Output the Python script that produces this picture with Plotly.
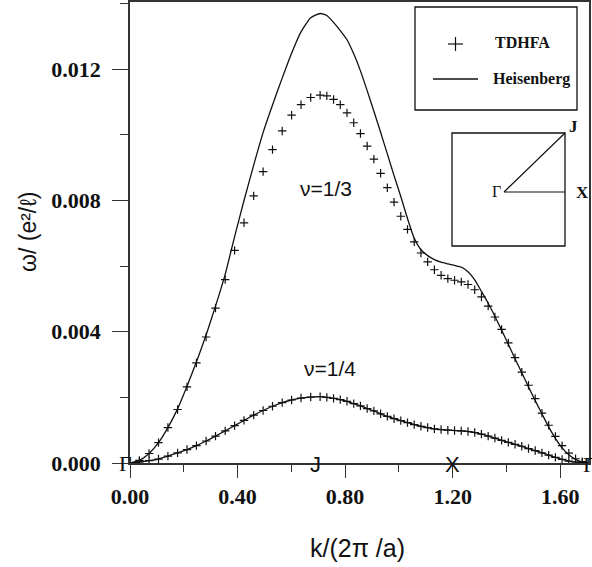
import plotly.graph_objects as go

# ---- data (k along Γ-J-X-Γ path, ω in units of e²/ℓ) ----
k = [0.000, 0.035, 0.071, 0.106, 0.141, 0.177, 0.212, 0.247, 0.283, 0.318, 0.354,
     0.389, 0.424, 0.460, 0.495, 0.530, 0.566, 0.601, 0.636, 0.672, 0.707,
     0.732, 0.757, 0.782, 0.807, 0.832, 0.857, 0.882, 0.907, 0.932, 0.957,
     0.982, 1.007, 1.032, 1.057, 1.082, 1.107, 1.132, 1.157, 1.182, 1.207,
     1.232, 1.257, 1.282, 1.307, 1.332, 1.357, 1.382, 1.407, 1.432, 1.457,
     1.482, 1.507, 1.532, 1.557, 1.582, 1.607, 1.632, 1.657, 1.682, 1.707]

tdhfa_13 = [0, 0.00008, 0.00029, 0.00062, 0.00108, 0.00163, 0.00232, 0.00305, 0.00384, 0.00472, 0.00559,
            0.00648, 0.00732, 0.00814, 0.00888, 0.00955, 0.01012, 0.01060, 0.01092, 0.01114, 0.01121,
            0.01119, 0.01108, 0.01092, 0.01067, 0.01037, 0.01004, 0.00966, 0.00926, 0.00883, 0.00839,
            0.00795, 0.00752, 0.00712, 0.00674, 0.00640, 0.00613, 0.00589, 0.00572, 0.00562, 0.00557,
            0.00552, 0.00544, 0.00528, 0.00506, 0.00478, 0.00445, 0.00407, 0.00366, 0.00321, 0.00277,
            0.00237, 0.00196, 0.00152, 0.00115, 0.00081, 0.00053, 0.00030, 0.00013, 0.00004, 0]

heis_13 = [0, 0.00008, 0.00029, 0.00062, 0.00108, 0.00165, 0.00234, 0.00308, 0.00390, 0.00478, 0.00575,
           0.00690, 0.00800, 0.00908, 0.01007, 0.01091, 0.01173, 0.01249, 0.01314, 0.01357, 0.01370,
           0.01364, 0.01343, 0.01318, 0.01290, 0.01247, 0.01195, 0.01135, 0.01072, 0.01008, 0.00942,
           0.00876, 0.00812, 0.00745, 0.00685, 0.00650, 0.00632, 0.00620, 0.00612, 0.00607, 0.00602,
           0.00597, 0.00583, 0.00558, 0.00523, 0.00487, 0.00447, 0.00405, 0.00362, 0.00318, 0.00275,
           0.00232, 0.00190, 0.00150, 0.00110, 0.00075, 0.00046, 0.00025, 0.00011, 0.00003, 0]

tdhfa_14 = [0, 0.00003, 0.00007, 0.00012, 0.00021, 0.00031, 0.00041, 0.00053, 0.00067, 0.00082, 0.00098,
            0.00114, 0.00130, 0.00146, 0.00160, 0.00173, 0.00184, 0.00192, 0.00198, 0.00201, 0.00202,
            0.00200, 0.00197, 0.00193, 0.00188, 0.00181, 0.00174, 0.00166, 0.00159, 0.00150, 0.00142,
            0.00135, 0.00129, 0.00123, 0.00117, 0.00112, 0.00108, 0.00104, 0.00102, 0.00100, 0.00099,
            0.00098, 0.00096, 0.00093, 0.00088, 0.00082, 0.00076, 0.00069, 0.00063, 0.00057, 0.00051,
            0.00044, 0.00038, 0.00031, 0.00024, 0.00017, 0.00011, 0.00006, 0.00003, 0.00001, 0]

heis_14 = [0, 0.00003, 0.00007, 0.00012, 0.00021, 0.00031, 0.00041, 0.00053, 0.00067, 0.00082, 0.00098,
           0.00114, 0.00130, 0.00146, 0.00160, 0.00173, 0.00184, 0.00192, 0.00198, 0.00201, 0.00202,
           0.00200, 0.00197, 0.00193, 0.00188, 0.00181, 0.00174, 0.00166, 0.00159, 0.00150, 0.00142,
           0.00135, 0.00129, 0.00123, 0.00117, 0.00112, 0.00108, 0.00104, 0.00102, 0.00100, 0.00099,
           0.00098, 0.00096, 0.00093, 0.00088, 0.00082, 0.00076, 0.00069, 0.00063, 0.00057, 0.00051,
           0.00044, 0.00038, 0.00031, 0.00024, 0.00017, 0.00011, 0.00006, 0.00003, 0.00001, 0]

x_range = [0, 1.707]
y_range = [0, 0.01405]
x_ticks = [0.0, 0.4, 0.8, 1.2, 1.6]
y_ticks = [0.000, 0.004, 0.008, 0.012]
sym_points = [("J", 0.69), ("X", 1.2), ("Γ", 1.707)]

# ---- layout geometry (pixels) ----
W, H = 592, 567
ML, MR, MT, MB = 130, 3, 2, 104
PW, PH = W - ML - MR, H - MT - MB

def px(xp):
    return (xp - ML) / PW

def py(yp):
    return (H - MB - yp) / PH

INK = "#111"
line_style = dict(color=INK, width=1.3)
marker_style = dict(symbol="cross-thin", size=6, line=dict(color=INK, width=1.2), color=INK)

fig = go.Figure()
fig.add_trace(go.Scatter(x=k, y=heis_13, mode="lines", line=dict(**line_style, shape="spline", smoothing=0.5),
                         name="Heisenberg", showlegend=False))
fig.add_trace(go.Scatter(x=k, y=heis_14, mode="lines", line=dict(**line_style, shape="spline", smoothing=0.5),
                         name="Heisenberg", showlegend=False))
fig.add_trace(go.Scatter(x=k, y=tdhfa_13, mode="markers", marker=marker_style, name="TDHFA", showlegend=False))
fig.add_trace(go.Scatter(x=k, y=tdhfa_14, mode="markers", marker=marker_style, name="TDHFA", showlegend=False))

tickfont = dict(family="Liberation Serif", size=22, color=INK, weight="bold")
fig.update_xaxes(range=x_range, tickvals=x_ticks, tickformat=".2f", ticks="outside", ticklen=13, tickwidth=1.4,
                 tickcolor="#333", showline=True, linecolor="#333", linewidth=1.5, mirror=True,
                 showgrid=False, zeroline=False, tickfont=tickfont, ticklabelstandoff=0,
                 minor=dict(dtick=0.2, ticks="outside", ticklen=7, tickwidth=1.2, tickcolor="#333"))
fig.update_yaxes(range=y_range, tickvals=y_ticks, tickformat=".3f", ticks="outside", ticklen=16, tickwidth=1.4,
                 tickcolor="#333", showline=True, linecolor="#333", linewidth=1.5, mirror=True,
                 showgrid=False, zeroline=False, tickfont=tickfont, ticklabelstandoff=7,
                 minor=dict(dtick=0.002, ticks="outside", ticklen=8, tickwidth=1.2, tickcolor="#333"))

shapes = []
annotations = []

def label(text, xp, yp, font, xanchor="center", angle=0, xref="paper"):
    annotations.append(dict(text=text, x=px(xp) if xref == "paper" else xp, y=py(yp), xref=xref, yref="paper",
                            xanchor=xanchor, yanchor="middle", textangle=angle, showarrow=False, font=font))

# axis titles
label("ω/ (e²/ℓ)", 28, 232, dict(family="Liberation Sans", size=23, color=INK), angle=-90)
label("k/(2π /a)", 357, 548, dict(family="Liberation Sans", size=25, color=INK))
# curve labels
label("ν=1/3", 326, 188, dict(family="Liberation Sans", size=21, color=INK))
label("ν=1/4", 330, 368, dict(family="Liberation Sans", size=21, color=INK))
# symmetry point labels on axis
label("Γ", 125, 463, dict(family="Liberation Serif", size=22, color=INK))
for lab, kv in sym_points:
    fam = "Liberation Serif" if lab == "Γ" else "Liberation Sans"
    label(lab, kv, 464, dict(family=fam, size=22, color=INK), xref="x")

# legend box
shapes.append(dict(type="rect", xref="paper", yref="paper", x0=px(415), x1=px(577), y0=py(110), y1=py(7),
                   line=dict(color=INK, width=1.3)))
shapes.append(dict(type="line", xref="paper", yref="paper", x0=px(448), x1=px(463), y0=py(44), y1=py(44),
                   line=dict(color=INK, width=1.2)))
shapes.append(dict(type="line", xref="paper", yref="paper", x0=px(455.5), x1=px(455.5), y0=py(37), y1=py(51),
                   line=dict(color=INK, width=1.2)))
shapes.append(dict(type="line", xref="paper", yref="paper", x0=px(433), x1=px(478), y0=py(79), y1=py(79),
                   line=dict(color=INK, width=1.3)))
legfont = dict(family="Liberation Serif", size=16, color=INK, weight="bold")
label("TDHFA", 493, 43, legfont, xanchor="left")
label("Heisenberg", 491, 79, legfont, xanchor="left")

# Brillouin-zone inset
shapes.append(dict(type="rect", xref="paper", yref="paper", x0=px(452), x1=px(565), y0=py(246), y1=py(133),
                   line=dict(color=INK, width=1.3)))
shapes.append(dict(type="line", xref="paper", yref="paper", x0=px(504), x1=px(565), y0=py(192), y1=py(133),
                   line=dict(color=INK, width=1.2)))
shapes.append(dict(type="line", xref="paper", yref="paper", x0=px(504), x1=px(565), y0=py(192), y1=py(192),
                   line=dict(color=INK, width=1.2)))
label("Γ", 496, 191, dict(family="Liberation Serif", size=16, color=INK))
label("J", 573, 126, dict(family="Liberation Serif", size=17, color=INK, weight="bold"))
label("X", 582, 192, dict(family="Liberation Serif", size=17, color=INK, weight="bold"))

fig.update_layout(width=W, height=H, margin=dict(l=ML, r=MR, t=MT, b=MB, autoexpand=False),
                  paper_bgcolor="white", plot_bgcolor="white", showlegend=False,
                  shapes=shapes, annotations=annotations)

fig.write_html("out.html", config={"displayModeBar": False},
               post_script="document.body.style.margin='0';document.body.style.overflow='hidden';")
